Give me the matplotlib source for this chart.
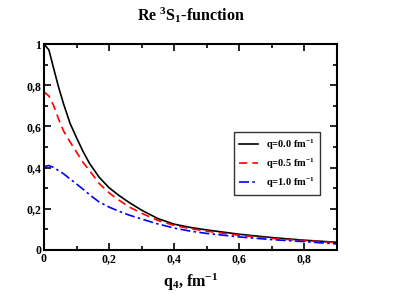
import matplotlib
matplotlib.use('Agg')
import matplotlib.pyplot as plt
from matplotlib.ticker import MultipleLocator, FuncFormatter

# data
q4 = [0, 0.015, 0.03, 0.045, 0.06, 0.08, 0.1, 0.12, 0.14, 0.17, 0.2, 0.23, 0.26,
      0.3, 0.35, 0.4, 0.45, 0.5, 0.6, 0.7, 0.8, 0.9]
f_q00 = [1.0, 0.972, 0.88, 0.79, 0.71, 0.615, 0.545, 0.478, 0.42, 0.352, 0.302, 0.265, 0.232,
         0.193, 0.152, 0.125, 0.109, 0.097, 0.076, 0.06, 0.047, 0.037]
f_q05 = [0.768, 0.748, 0.70, 0.635, 0.578, 0.525, 0.475, 0.425, 0.385, 0.322, 0.277, 0.242, 0.21,
         0.178, 0.143, 0.119, 0.103, 0.091, 0.071, 0.056, 0.045, 0.035]
f_q10 = [0.405, 0.41, 0.40, 0.385, 0.37, 0.345, 0.32, 0.295, 0.268, 0.232, 0.208, 0.188, 0.17,
         0.15, 0.126, 0.106, 0.091, 0.08, 0.063, 0.05, 0.04, 0.029]
labels = ['q=0.0 fm$^{-1}$', 'q=0.5 fm$^{-1}$', 'q=1.0 fm$^{-1}$']

plt.rcParams['font.family'] = 'Liberation Serif'
plt.rcParams['font.weight'] = 'bold'
plt.rcParams['mathtext.fontset'] = 'custom'
plt.rcParams['mathtext.rm'] = 'Liberation Serif:bold'
plt.rcParams['mathtext.it'] = 'Liberation Serif:bold'
plt.rcParams['mathtext.bf'] = 'Liberation Serif:bold'
plt.rcParams['mathtext.default'] = 'rm'

fig = plt.figure(figsize=(4.15, 2.94), dpi=100)
ax = fig.add_axes([0.106, 0.150, 0.706, 0.700])

ax.plot(q4, f_q00, color='black', lw=1.2, ls='-', label=labels[0])
ax.plot(q4, f_q05, color='red', lw=1.2, ls=(0, (5, 3)), label=labels[1])
ax.plot(q4, f_q10, color='blue', lw=1.2, ls=(0, (6, 2, 1.5, 2)), label=labels[2])

ax.set_xlim(0, 0.9)
ax.set_ylim(0, 1)
ax.xaxis.set_major_locator(MultipleLocator(0.2))
ax.xaxis.set_minor_locator(MultipleLocator(0.1))
ax.yaxis.set_major_locator(MultipleLocator(0.2))
ax.yaxis.set_minor_locator(MultipleLocator(0.1))

def fmt(v, pos):
    if abs(v) < 1e-9:
        return '0'
    if abs(v - 1) < 1e-9:
        return '1'
    return ('%.1f' % v).replace('.', ',')

ax.xaxis.set_major_formatter(FuncFormatter(fmt))
ax.yaxis.set_major_formatter(FuncFormatter(fmt))
ax.tick_params(which='both', direction='in', top=True, right=True, width=1.2, labelsize=8.5, pad=2)
ax.tick_params(which='major', length=5)
ax.tick_params(which='minor', length=3)
for s in ax.spines.values():
    s.set_linewidth(1.5)

ax.set_title('Re $^{3}$S$_{1}$-function', fontsize=11.5, fontweight='bold', pad=17)
ax.set_xlabel('q$_{4}$, fm$^{-1}$', fontsize=11.5, fontweight='bold', labelpad=5)

leg = ax.legend(loc='upper left', bbox_to_anchor=(0.648, 0.573), borderaxespad=0, fontsize=7.5,
                frameon=True, fancybox=False, edgecolor='black', handlelength=1.8,
                handletextpad=0.8, borderpad=0.5, labelspacing=0.45)
leg.get_frame().set_linewidth(1.0)

fig.savefig('out.png', dpi=100)
